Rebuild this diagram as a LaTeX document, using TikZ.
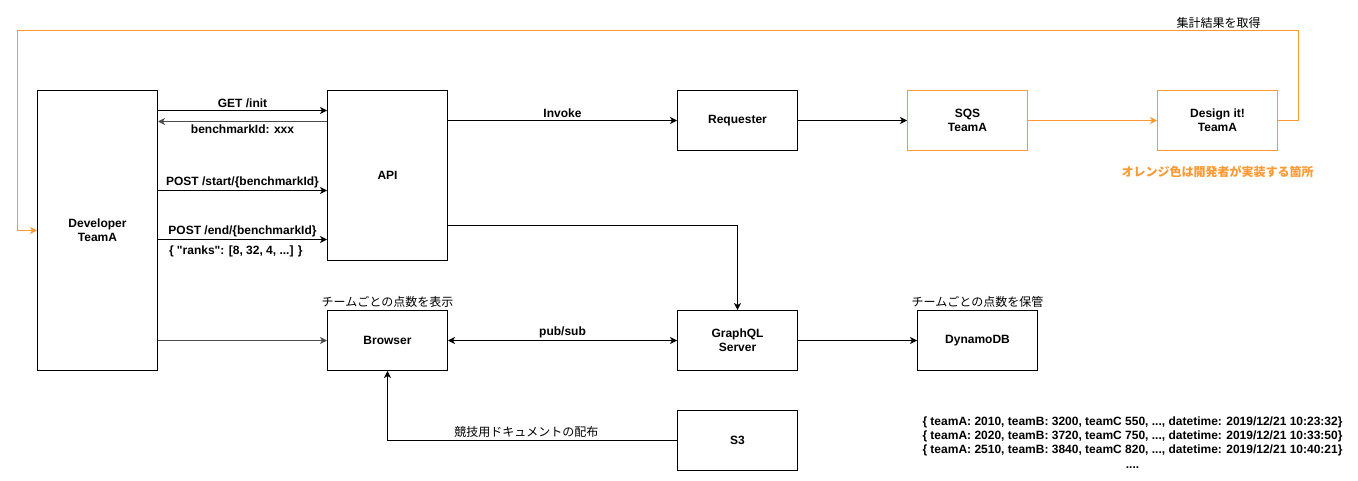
\documentclass[tikz,border=0pt]{standalone}
\usepackage{fontspec}
\setmainfont{Liberation Sans}
\newfontfamily\jp{Noto Sans CJK JP}
\usetikzlibrary{arrows.meta}
\definecolor{devorange}{RGB}{255,153,51}
\begin{document}
\begin{tikzpicture}[x=1pt, y=-1pt, line width=1pt,
    font=\fontsize{12}{14}\selectfont,
    box/.style={draw, rectangle, minimum width=120pt, minimum height=60pt,
      inner sep=0pt, align=center, font=\fontsize{12}{14}\selectfont\bfseries},
    obox/.style={box, draw=devorange},
    arr/.style={-{Stealth[length=7pt,width=7pt,inset=2pt]}},
    darr/.style={{Stealth[length=7pt,width=7pt,inset=2pt]}-{Stealth[length=7pt,width=7pt,inset=2pt]}},
    oarr/.style={arr, draw=devorange},
    lbl/.style={font=\fontsize{12}{14}\selectfont\bfseries, inner sep=2pt},
    jlbl/.style={font=\fontsize{12}{14}\selectfont\jp, inner sep=2pt}]
  \useasboundingbox (-0.5,-0.5) rectangle (1357.5,480.5);

  % Define the boxes
  \node[box, minimum height=280pt] (dev) at (97,230) {Developer\\TeamA};
  \node[box, minimum height=170pt] (api) at (387,175) {API};
  \node[box] (req) at (737,120) {Requester};
  \node[obox] (sqs) at (967,120) {SQS\\TeamA};
  \node[obox] (design) at (1217,120) {Design it!\\TeamA};
  \node[box] (browser) at (387,340) {Browser};
  \node[box] (gql) at (737,340) {GraphQL\\Server};
  \node[box] (dynamo) at (977,340) {DynamoDB};
  \node[box] (s3) at (737,440) {S3};

  % Developer <-> API
  \draw[arr] (dev.east |- 0,110) -- (api.west |- 0,110) node[midway, above, lbl] {GET /init};
  \draw[arr, draw=black!70] (api.west |- 0,121) -- (dev.east |- 0,121) node[midway, below, lbl, yshift=-1pt] {benchmarkId: xxx};
  \draw[arr] (dev.east |- 0,190) -- (api.west |- 0,190) node[midway, above, lbl] {POST /start/\{benchmarkId\}};
  \draw[arr] (dev.east |- 0,239) -- (api.west |- 0,239) node[midway, above, lbl] {POST /end/\{benchmarkId\}};
  \node[lbl, anchor=west] (ranks) at (166,251) {\{ \textquotedbl ranks\textquotedbl: [8, 32, 4, ...] \}};

  % API -> Requester -> SQS -> Design it!
  \draw[arr] (api.east |- req.west) -- (req.west) node[midway, above, lbl] {Invoke};
  \draw[arr] (req.east) -- (sqs.west);
  \draw[oarr] (sqs.east) -- (design.west);

  % result loop back to the developer
  \coordinate (loop) at (17,30);
  \draw[oarr] (design.east) -- ++(20,0) |- (loop) node[pos=0.531, above, jlbl] {集計結果を取得} |- (dev.west);
  \node[jlbl, text=devorange, font=\fontsize{12}{14}\selectfont\jp\bfseries] (note) at (1217,171) {オレンジ色は開発者が実装する箇所};

  % lower row
  \draw[arr] (api.east |- 0,225) -| (gql.north);
  \draw[arr, draw=black!70] (dev.east |- browser.west) -- (browser.west);
  \draw[darr] (browser.east) -- (gql.west) node[midway, above, lbl] {pub/sub};
  \draw[arr] (gql.east) -- (dynamo.west);
  \draw[arr] (s3.west) -| (browser.south) node[pos=0.26, above, jlbl] {競技用ドキュメントの配布};
  \node[jlbl, above] (showlbl) at (browser.north) {チームごとの点数を表示};
  \node[jlbl, above] (storelbl) at (dynamo.north) {チームごとの点数を保管};

  % sample records
  \node[align=center, font=\fontsize{12}{14.3}\selectfont\bfseries] (records) at (1132,442)
    {\{ teamA: 2010, teamB: 3200, teamC 550, ..., datetime: 2019/12/21 10:23:32\}\\
     \{ teamA: 2020, teamB: 3720, teamC 750, ..., datetime: 2019/12/21 10:33:50\}\\
     \{ teamA: 2510, teamB: 3840, teamC 820, ..., datetime: 2019/12/21 10:40:21\}\\
     ....};
\end{tikzpicture}
\end{document}
